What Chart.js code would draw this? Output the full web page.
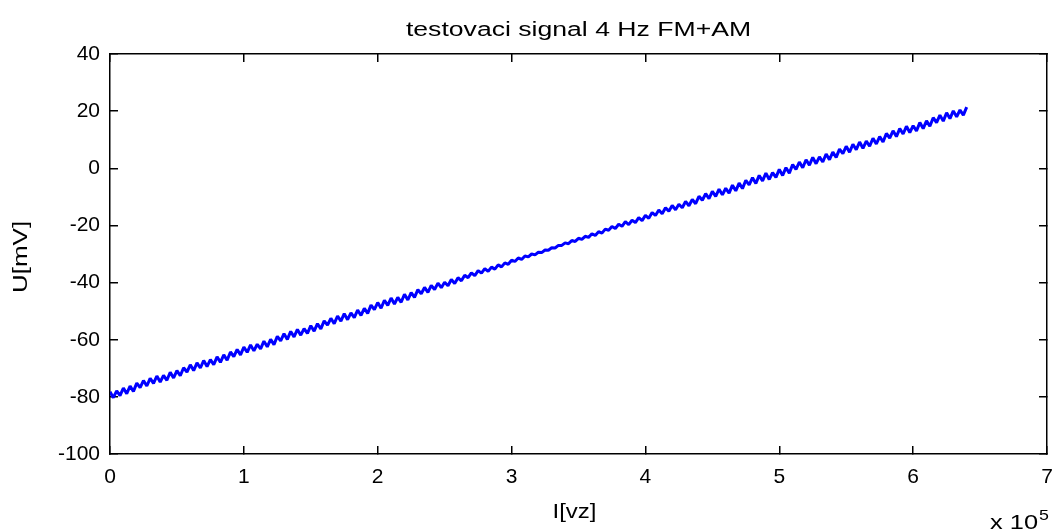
<!DOCTYPE html>
<html><head><meta charset="utf-8">
<script src="https://cdn.jsdelivr.net/npm/chart.js@4.4.1/dist/chart.umd.min.js"></script>
<style>html,body{margin:0;padding:0;background:#fff;} canvas{display:block;}</style>
</head><body>
<canvas id="c" width="1056" height="531"></canvas>
<script>
const titleText = 'testovaci signal 4 Hz FM+AM';
const xLabel = 'I[vz]';
const yLabel = 'U[mV]';
const xExponentBase = 'x 10';
const xExponent = '5';

// sample index in thousands of samples
const sampleK = [
0,2.5,5,7.5,10,12.5,15,17.5,20,22.5,25,27.5,30,32.5,35,37.5,40,42.5,45,47.5,50,52.5,55,57.5,60,62.5,65,67.5,70,72.5,75,77.5,80,82.5,85,87.5,90,92.5,95,97.5,
100,102.5,105,107.5,110,112.5,115,117.5,120,122.5,125,127.5,130,132.5,135,137.5,140,142.5,145,147.5,150,152.5,155,157.5,160,162.5,165,167.5,170,172.5,175,177.5,180,182.5,185,187.5,190,192.5,195,197.5,
200,202.5,205,207.5,210,212.5,215,217.5,220,222.5,225,227.5,230,232.5,235,237.5,240,242.5,245,247.5,250,252.5,255,257.5,260,262.5,265,267.5,270,272.5,275,277.5,280,282.5,285,287.5,290,292.5,295,297.5,
300,302.5,305,307.5,310,312.5,315,317.5,320,322.5,325,327.5,330,332.5,335,337.5,340,342.5,345,347.5,350,352.5,355,357.5,360,362.5,365,367.5,370,372.5,375,377.5,380,382.5,385,387.5,390,392.5,395,397.5,
400,402.5,405,407.5,410,412.5,415,417.5,420,422.5,425,427.5,430,432.5,435,437.5,440,442.5,445,447.5,450,452.5,455,457.5,460,462.5,465,467.5,470,472.5,475,477.5,480,482.5,485,487.5,490,492.5,495,497.5,
500,502.5,505,507.5,510,512.5,515,517.5,520,522.5,525,527.5,530,532.5,535,537.5,540,542.5,545,547.5,550,552.5,555,557.5,560,562.5,565,567.5,570,572.5,575,577.5,580,582.5,585,587.5,590,592.5,595,597.5,
600,602.5,605,607.5,610,612.5,615,617.5,620,622.5,625,627.5,630,632.5,635,637.5,640
];

// U [mV]
const voltage = [
-78.2,-80.3,-77.9,-79.6,-76.9,-78.9,-76.2,-78.1,-75.2,-76.8,
-74.3,-76.2,-73.5,-75.3,-72.7,-74.8,-72.5,-74.2,-71.4,-73.4,
-70.8,-72.6,-69.8,-71.3,-68.8,-70.8,-68.1,-69.9,-67.3,-69.4,
-67.0,-68.7,-66.0,-67.9,-65.3,-67.2,-64.3,-65.9,-63.4,-65.3,
-62.6,-64.4,-61.8,-63.9,-61.6,-63.2,-60.5,-62.5,-59.9,-61.7,
-58.8,-60.4,-57.9,-59.9,-57.1,-59.0,-56.4,-58.4,-56.1,-57.8,
-55.1,-57.0,-54.4,-56.2,-53.4,-54.9,-52.5,-54.4,-51.7,-53.5,
-50.9,-53.0,-50.6,-52.3,-49.6,-51.5,-49.0,-50.8,-47.9,-49.5,
-47.0,-49.0,-46.2,-48.0,-45.4,-47.5,-45.2,-46.9,-44.1,-46.1,
-43.5,-45.2,-42.5,-43.9,-41.7,-43.4,-41.0,-42.4,-40.2,-41.8,
-39.9,-41.1,-38.9,-40.3,-38.3,-39.4,-37.4,-38.3,-36.6,-37.6,
-35.8,-36.7,-35.1,-36.1,-34.6,-35.3,-33.8,-34.5,-33.1,-33.6,
-32.2,-32.6,-31.4,-31.9,-30.7,-31.0,-30.0,-30.3,-29.4,-29.5,
-28.6,-28.7,-27.8,-27.9,-27.0,-27.0,-26.1,-26.4,-25.3,-25.6,
-24.5,-24.9,-23.8,-24.2,-22.9,-23.5,-22.2,-22.7,-21.3,-21.7,
-20.4,-21.1,-19.6,-20.3,-18.7,-19.7,-18.2,-19.0,-17.3,-18.3,
-16.5,-17.5,-15.5,-16.5,-14.6,-15.9,-13.8,-15.0,-13.0,-14.5,
-12.6,-13.8,-11.6,-13.1,-10.9,-12.4,-9.8,-11.2,-8.9,-10.6,
-8.1,-9.8,-7.3,-9.3,-7.0,-8.7,-5.9,-7.9,-5.2,-7.1,
-4.2,-5.8,-3.3,-5.3,-2.5,-4.4,-1.7,-3.9,-1.5,-3.2,
-0.4,-2.5,0.2,-1.7,1.3,-0.4,2.2,0.2,3.0,1.1,
3.8,1.6,4.0,2.2,5.0,3.0,5.7,3.8,6.7,5.1,
7.7,5.6,8.4,6.5,9.2,7.0,9.5,7.7,10.5,8.5,
11.1,9.2,12.2,10.6,13.1,11.1,13.9,12.0,14.7,12.5,
14.9,13.1,16.0,13.9,16.6,14.7,17.7,16.0,18.6,16.5,
19.4,17.4,20.1,18.0,20.4,18.6,21.4
];

const xTickValues = [0,100,200,300,400,500,600,700];
const xTickLabels = ['0','1','2','3','4','5','6','7'];
const yTickValues = [-100,-80,-60,-40,-20,0,20,40];
const yTickLabels = ['-100','-80','-60','-40','-20','0','20','40'];

const FONT = "'Liberation Sans', Arial, Helvetica, sans-serif";

function axis(pos, vals, labels, showLabels, size, padding) {
  const vertical = (pos === 'left' || pos === 'right');
  return {
    type: 'linear', position: pos,
    min: vals[0], max: vals[vals.length - 1],
    afterBuildTicks: s => { s.ticks = vals.map(v => ({ value: v })); },
    afterFit: s => {
      if (vertical) s.width = size; else s.height = size;
      s.paddingLeft = 0; s.paddingRight = 0; s.paddingTop = 0; s.paddingBottom = 0;
    },
    ticks: {
      display: showLabels, color: '#000', padding: padding,
      font: { family: FONT, size: 21 },
      maxRotation: 0, autoSkip: false,
      callback: v => labels[vals.indexOf(v)]
    },
    grid: { drawOnChartArea: false, drawTicks: true, tickLength: -8, color: '#000', lineWidth: 1.5 },
    border: { display: true, color: '#000', width: 1.5 }
  };
}

const textPlugin = {
  id: 'texts',
  afterDraw(chart) {
    const ctx = chart.ctx, a = chart.chartArea;
    const draw = (t, x, y, size, sx, rot, align) => {
      ctx.save();
      ctx.translate(x, y);
      if (rot) ctx.rotate(rot);
      ctx.scale(sx, 1);
      ctx.font = size + 'px ' + FONT;
      ctx.fillStyle = '#000';
      ctx.textAlign = align || 'center';
      ctx.textBaseline = 'alphabetic';
      ctx.fillText(t, 0, 0);
      ctx.restore();
    };
    const cx = (a.left + a.right) / 2;
    const cy = (a.top + a.bottom) / 2;
    draw(titleText, cx, 36, 20, 1.33, 0);
    draw(xLabel, cx - 4, 518, 20, 1.2, 0);
    draw(yLabel, 27, cy + 3, 20, 1.3, -Math.PI / 2);
    draw(xExponentBase, 990, 529, 20, 1.27, 0, 'left');
    draw(xExponent, 1039, 520, 14, 1.27, 0, 'left');
  }
};

new Chart(document.getElementById('c'), {
  type: 'line',
  data: {
    datasets: [{
      data: sampleK.map((x, i) => ({ x: x, y: voltage[i] })),
      borderColor: '#0000ff',
      borderWidth: 3,
      borderJoinStyle: 'bevel',
      pointRadius: 0,
      tension: 0,
      fill: false,
      xAxisID: 'x', yAxisID: 'y'
    }]
  },
  options: {
    responsive: false,
    animation: false,
    devicePixelRatio: 1,
    layout: { padding: 0 },
    plugins: { legend: { display: false }, title: { display: false }, tooltip: { enabled: false } },
    scales: {
      x: axis('bottom', xTickValues, xTickLabels, true, 77, 19),
      x2: axis('top', xTickValues, xTickLabels, false, 54, 0),
      y: axis('left', yTickValues, yTickLabels, true, 110, 18),
      y2: axis('right', yTickValues, yTickLabels, false, 9, 0)
    }
  },
  plugins: [textPlugin]
});
</script>
</body></html>
